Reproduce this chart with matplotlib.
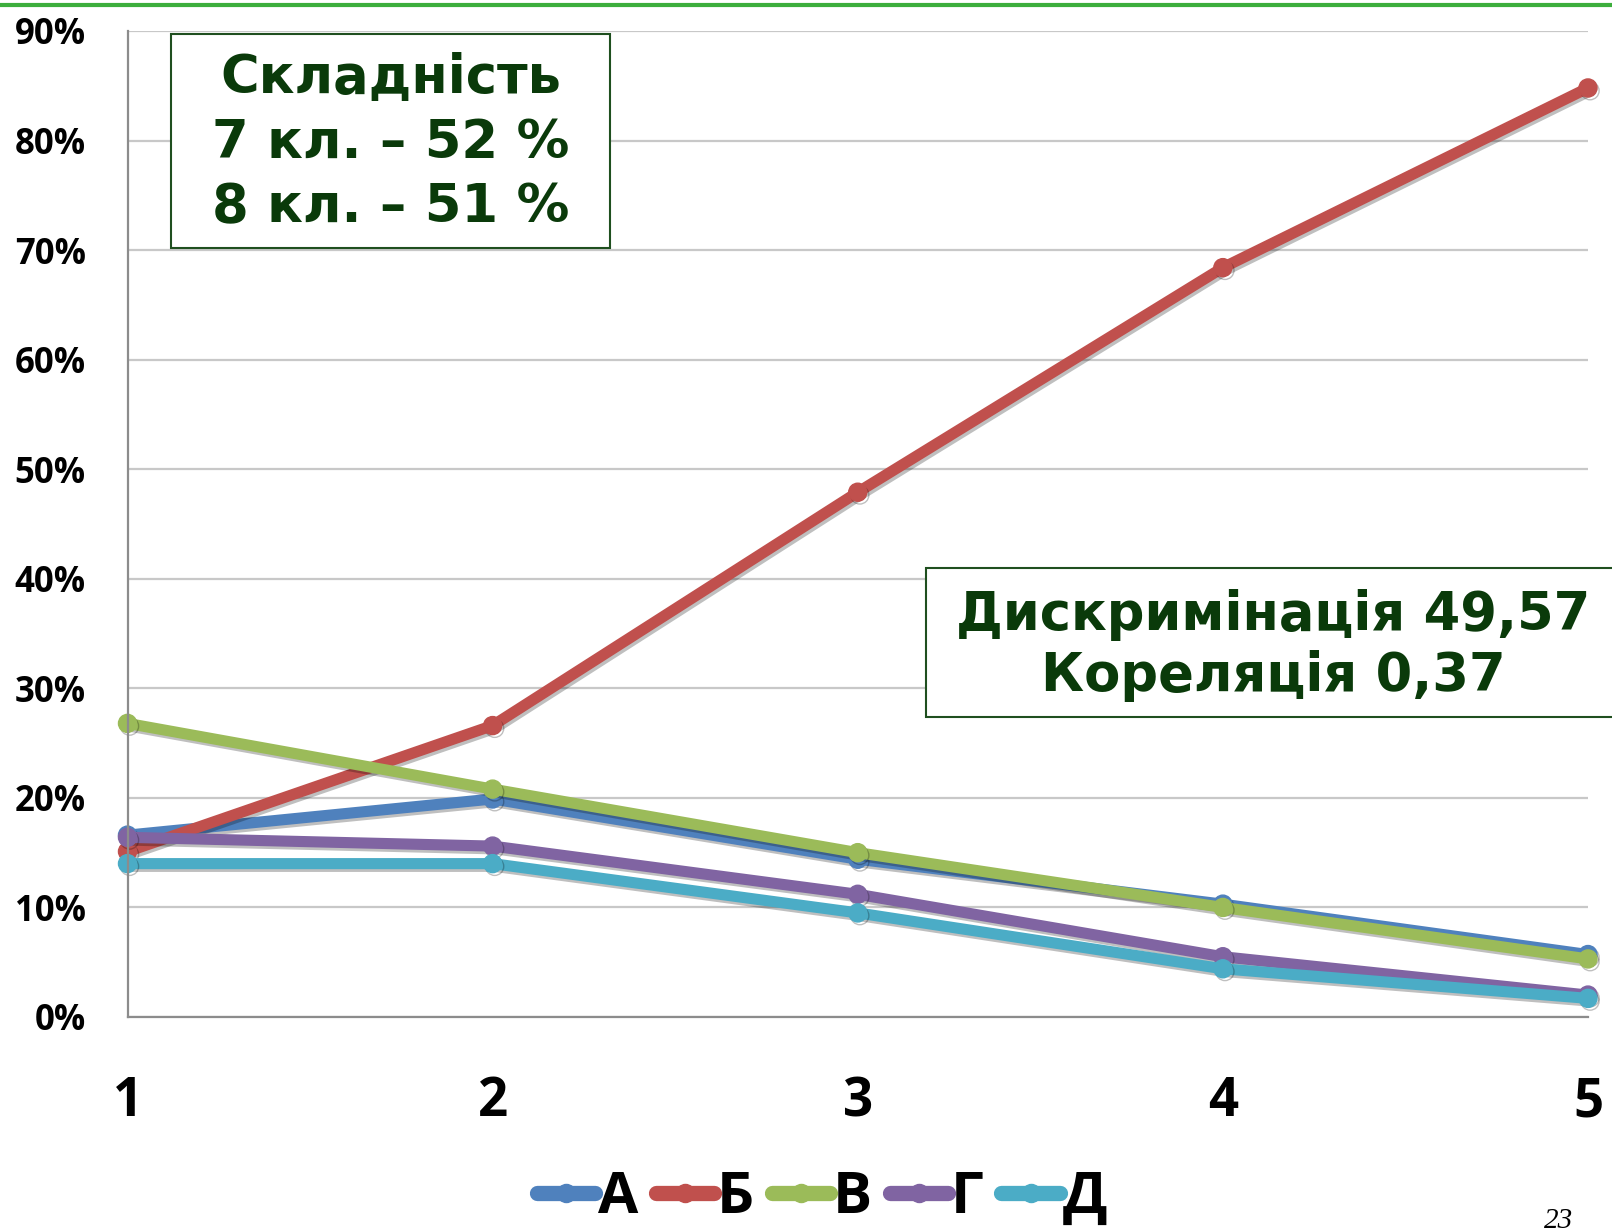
import matplotlib
matplotlib.use("Agg")
import matplotlib.pyplot as plt
from matplotlib.lines import Line2D
from matplotlib.patches import Rectangle
import matplotlib.patheffects as pe

# data
x = [1, 2, 3, 4, 5]
series_names = ["А", "Б", "В", "Г", "Д"]
vals_a = [0.166, 0.199, 0.144, 0.103, 0.057]
vals_b = [0.151, 0.266, 0.479, 0.684, 0.848]
vals_v = [0.268, 0.208, 0.150, 0.100, 0.053]
vals_g = [0.164, 0.156, 0.112, 0.055, 0.020]
vals_d = [0.140, 0.140, 0.095, 0.044, 0.017]
colors = ["#4F81BD", "#C0504D", "#9BBB59", "#8064A2", "#4BACC6"]

y_ticks = [i / 10 for i in range(10)]
box1_lines = ["Складність", "7 кл. – 52 %", "8 кл. – 51 %"]
box2_lines = ["Дискримінація 49,57", "Кореляція 0,37"]
page_no = "23"

W, H = 1612, 1231
fig = plt.figure(figsize=(W / 100, H / 100), dpi=100)
fig.patch.set_facecolor("white")

ax = fig.add_axes([127.5 / W, 1 - 1017 / H, (1588 - 127.5) / W, (1017 - 31) / H])
ax.set_xlim(1, 5)
ax.set_ylim(0, 0.9)
ax.set_yticks(y_ticks)
ax.set_yticklabels([f"{int(round(v * 100))}%" for v in y_ticks])
ax.set_xticks(x)
ax.set_xticklabels([str(v) for v in x])
ax.grid(axis="y", color="#c8c8c8", lw=1.6)
ax.set_axisbelow(True)
for s in ("top", "right"):
    ax.spines[s].set_visible(False)
for s in ("left", "bottom"):
    ax.spines[s].set_color("#8c8c8c")
    ax.spines[s].set_linewidth(1.6)
ax.tick_params(length=0)
ax.tick_params(axis="y", pad=30, labelsize=25)
ax.tick_params(axis="x", pad=42, labelsize=38)
for lab in ax.get_yticklabels() + ax.get_xticklabels():
    lab.set_fontfamily("Open Sans")
    lab.set_fontweight("bold")

handles = []
all_vals = [vals_a, vals_b, vals_v, vals_g, vals_d]
for name, vals, c in zip(series_names, all_vals, colors):
    ax.plot(x, vals, color=c, lw=8, marker="o", ms=13,
            mfc=c, mec=c, solid_capstyle="round", clip_on=False,
            path_effects=[pe.SimpleLineShadow(offset=(1.5, -2), alpha=0.25),
                          pe.Normal()])
    handles.append(Line2D([], [], color=c, lw=11, marker="o", ms=13,
                          mfc=c, mec=c, solid_capstyle="round"))

fig.legend(handles, series_names, loc="center", bbox_to_anchor=(0.51, 1 - 1198 / H),
           ncol=5, frameon=False, handlelength=1.0, handletextpad=0.05,
           columnspacing=0.3, prop={"family": "Open Sans", "weight": "bold", "size": 42})

# annotation boxes
green = "#0a3a0a"
fig.add_artist(Rectangle((171 / W, 1 - 248 / H), (610 - 171) / W, (248 - 34) / H,
                         transform=fig.transFigure, fill=True, fc="white",
                         ec="#1f4f1f", lw=1.5))
for yy, t in zip([78, 143, 207], box1_lines):
    fig.text(391 / W, 1 - yy / H, t, ha="center", va="center", fontsize=38,
             fontweight="bold", color=green, family="DejaVu Sans")

fig.add_artist(Rectangle((926 / W, 1 - 717 / H), (W + 10 - 926) / W, (717 - 568) / H,
                         transform=fig.transFigure, fill=True, fc="white",
                         ec="#1f4f1f", lw=1.5))
for yy, t in zip([615, 676], box2_lines):
    fig.text(1273 / W, 1 - yy / H, t, ha="center", va="center", fontsize=38,
             fontweight="bold", color=green, family="DejaVu Sans")

# green rule at the top and page number
fig.add_artist(Line2D([0, 1], [1 - 5 / H, 1 - 5 / H], transform=fig.transFigure,
                      color="#3cae3c", lw=3))
fig.text(1559 / W, 1 - 1221 / H, page_no, ha="center", va="center", fontsize=21,
         style="italic", family="Liberation Serif", color="black")

fig.savefig("out.png", dpi=100)
